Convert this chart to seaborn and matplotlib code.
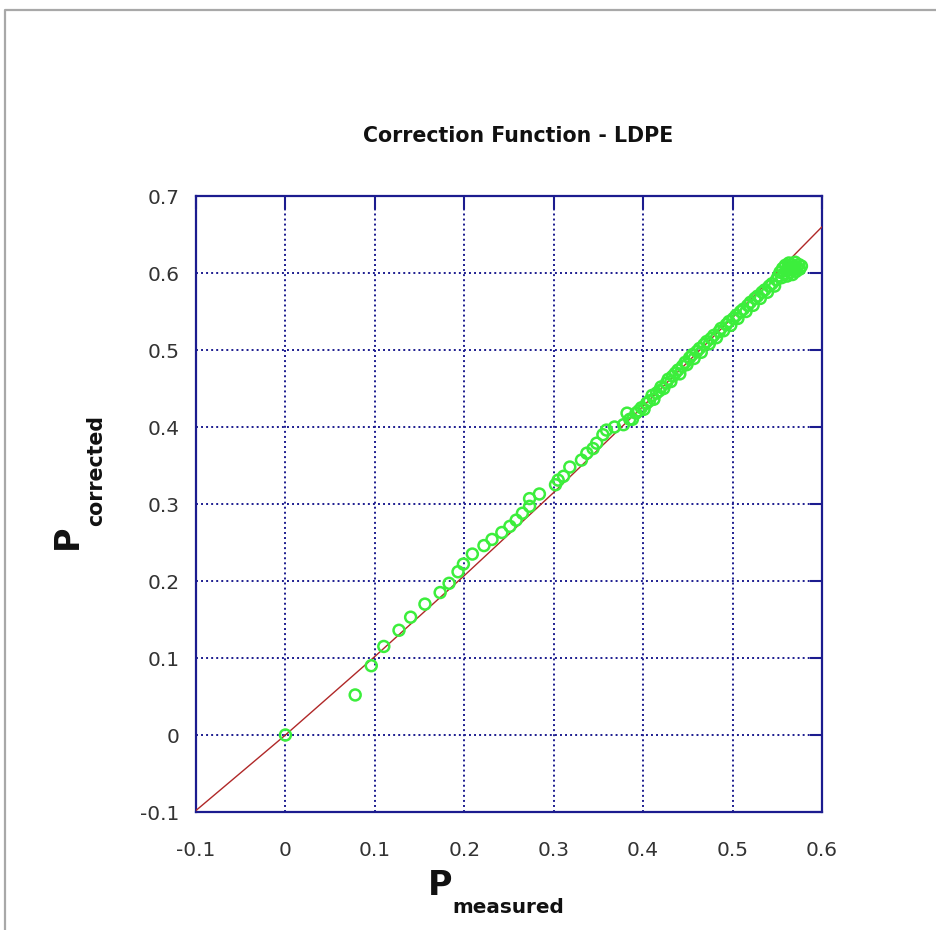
import numpy as np
import pandas as pd
import matplotlib
matplotlib.use("Agg")
import matplotlib.pyplot as plt
from matplotlib.lines import Line2D
import seaborn as sns

# ---- data ----
title = "Correction Function - LDPE"
x_ticks = [-0.1, 0, 0.1, 0.2, 0.3, 0.4, 0.5, 0.6]
x_tick_labels = ["-0.1", "0", "0.1", "0.2", "0.3", "0.4", "0.5", "0.6"]
y_ticks = [-0.1, 0, 0.1, 0.2, 0.3, 0.4, 0.5, 0.6, 0.7]
y_tick_labels = ["-0.1", "0", "0.1", "0.2", "0.3", "0.4", "0.5", "0.6", "0.7"]

# correction function curve
line_x = [-0.1, 0.0, 0.1, 0.2, 0.3, 0.4, 0.5, 0.6]
line_y = [-0.098, 0.0, 0.102, 0.207, 0.315, 0.427, 0.542, 0.660]

# measured points
meas_x = [0.000, 0.078, 0.096, 0.110, 0.127, 0.140, 0.156, 0.173, 0.183, 0.193,
          0.199, 0.209, 0.222, 0.231, 0.242, 0.251, 0.258, 0.265, 0.273, 0.273,
          0.284, 0.302, 0.305, 0.311, 0.318, 0.331, 0.337, 0.344, 0.348, 0.355,
          0.359, 0.368, 0.378, 0.382, 0.385,
          0.388, 0.392, 0.395, 0.398, 0.401, 0.404, 0.407, 0.410, 0.412, 0.415,
          0.418, 0.420, 0.423, 0.426, 0.428, 0.431, 0.433, 0.436, 0.439, 0.441,
          0.444, 0.447, 0.449, 0.452, 0.455, 0.457, 0.460, 0.463, 0.465, 0.468,
          0.471, 0.474, 0.476, 0.479, 0.482, 0.485, 0.487, 0.490, 0.493, 0.496,
          0.498, 0.501, 0.504, 0.506, 0.509, 0.512, 0.515, 0.517, 0.520, 0.523,
          0.525, 0.528, 0.531, 0.533, 0.536, 0.539, 0.541, 0.544, 0.547, 0.549,
          0.551, 0.553, 0.555, 0.556, 0.558, 0.559, 0.560, 0.561, 0.562, 0.563,
          0.564, 0.565, 0.566, 0.567, 0.568, 0.569, 0.570, 0.571, 0.572, 0.574,
          0.575, 0.577]
meas_y = [0.000, 0.052, 0.090, 0.115, 0.136, 0.153, 0.170, 0.185, 0.197, 0.212,
          0.222, 0.235, 0.246, 0.254, 0.263, 0.271, 0.279, 0.288, 0.297, 0.307,
          0.313, 0.325, 0.331, 0.336, 0.348, 0.357, 0.366, 0.372, 0.379, 0.390,
          0.396, 0.400, 0.403, 0.418, 0.410,
          0.410, 0.418, 0.421, 0.425, 0.423, 0.431, 0.434, 0.441, 0.436, 0.444,
          0.447, 0.452, 0.450, 0.457, 0.462, 0.459, 0.466, 0.470, 0.474, 0.469,
          0.479, 0.484, 0.481, 0.490, 0.494, 0.489, 0.498, 0.502, 0.497, 0.507,
          0.511, 0.508, 0.515, 0.519, 0.516, 0.524, 0.528, 0.525, 0.533, 0.537,
          0.532, 0.541, 0.545, 0.541, 0.550, 0.553, 0.550, 0.558, 0.562, 0.558,
          0.567, 0.570, 0.567, 0.575, 0.578, 0.575, 0.583, 0.586, 0.583, 0.591,
          0.596, 0.601, 0.594, 0.606, 0.599, 0.610, 0.603, 0.596, 0.608, 0.613,
          0.601, 0.606, 0.611, 0.598, 0.604, 0.609, 0.614, 0.602, 0.607, 0.611,
          0.605, 0.609]

# ---- styling ----
W, H = 936, 930
NAVY = "#1c1c8f"
sns.set_style("white")
plt.rcParams["font.family"] = ["DejaVu Sans"]

fig = plt.figure(figsize=(W / 100, H / 100), dpi=100)
fig.patch.set_facecolor("white")
L, R, T, B = 196, 822, 196, 812
ax = fig.add_axes([L / W, 1 - B / H, (R - L) / W, (B - T) / H])

line_df = pd.DataFrame({"x": line_x, "y": line_y})
pts_df = pd.DataFrame({"x": meas_x, "y": meas_y})

sns.lineplot(data=line_df, x="x", y="y", ax=ax, color="#b02828", lw=1.0,
             sort=True, zorder=3)
sns.scatterplot(data=pts_df, x="x", y="y", ax=ax, marker="o", s=62,
                facecolor="none", edgecolor="#3cee3c", linewidth=1.8, zorder=4)

ax.set_xlim(-0.1, 0.6)
ax.set_ylim(-0.1, 0.7)
ax.set_xticks(x_ticks)
ax.set_xticklabels(x_tick_labels)
ax.set_yticks(y_ticks)
ax.set_yticklabels(y_tick_labels)
ax.set_xlabel("")
ax.set_ylabel("")

ax.grid(True, color=NAVY, linestyle=(0, (1, 1.6)), linewidth=1.4)
ax.set_axisbelow(True)
for s in ax.spines.values():
    s.set_visible(True)
    s.set_color(NAVY)
    s.set_linewidth(1.6)

ax.tick_params(axis="both", which="major", direction="in", length=9, width=1.5,
               color=NAVY, labelcolor="#333333", labelsize=14.5,
               top=True, right=True, labeltop=False, labelright=False)
ax.tick_params(axis="x", pad=21)
ax.tick_params(axis="y", pad=12)

# title
fig.text(518 / W, 1 - 142 / H, title, ha="center", va="baseline",
         fontsize=14.8, fontweight="bold", color="#111111")

# x label  P_measured
fig.text(428 / W, 1 - 895 / H, "P", ha="left", va="baseline",
         fontsize=24, fontweight="bold", color="#111111")
fig.text(452 / W, 1 - 913 / H, "measured", ha="left", va="baseline",
         fontsize=14.4, fontweight="bold", color="#111111")

# y label  P_corrected
fig.text(77 / W, 1 - 549 / H, "P", ha="left", va="baseline", rotation=90,
         rotation_mode="anchor", fontsize=24, fontweight="bold", color="#111111")
fig.text(102 / W, 1 - 526 / H, "corrected", ha="left", va="baseline", rotation=90,
         rotation_mode="anchor", fontsize=14.8, fontweight="bold", color="#111111")

# outer gray frame (top and left edges)
fig.add_artist(Line2D([4.5 / W, 4.5 / W, 1.01], [-0.01, 1 - 10.5 / H, 1 - 10.5 / H],
                      transform=fig.transFigure, color="#a8a8a8", lw=1.6))

fig.savefig("out.png", dpi=100, facecolor="white")
